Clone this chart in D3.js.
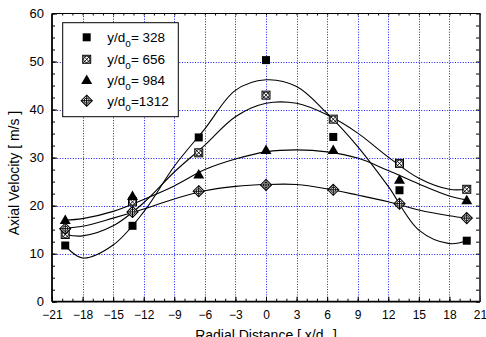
<!DOCTYPE html>
<html>
<head>
<meta charset="utf-8">
<script src="https://cdn.jsdelivr.net/npm/d3@7"></script>
<style>
  html, body { margin: 0; padding: 0; background: #fff; }
  svg { display: block; font-family: Arial, "Liberation Sans", sans-serif; }
</style>
</head>
<body>
<figure id="velocity-graph" style="margin:0"></figure>
<script>
// measured points (radial position, x/do)
const radialPos = [-19.7, -13.1, -6.6, 0, 6.6, 13.1, 19.7];
const vel328 = [11.7, 15.8, 34.2, 50.3, 34.3, 23.2, 12.7];
const vel656 = [14.0, 20.8, 31.0, 43.0, 38.0, 28.8, 23.4];
const vel984 = [17.0, 22.0, 26.5, 31.6, 31.6, 25.4, 21.1];
const vel1312 = [15.2, 18.7, 23.0, 24.3, 23.3, 20.4, 17.4];

// fitted curves
const fitPos = [-19.7, -18, -15, -12, -9, -6, -3, 0, 3, 6, 9, 12, 15, 18, 19.7];
const fit328 = [11.6, 9.1, 11.8, 18.7, 28.2, 36.0, 44.0, 46.2, 44.8, 39.2, 32.3, 24.0, 14.9, 12.1, 12.7];
const fit656 = [14.0, 13.7, 15.8, 20.6, 27.0, 32.6, 38.5, 41.3, 41.3, 38.9, 35.1, 30.1, 25.7, 23.4, 23.4];
const fit984 = [17.0, 17.3, 18.8, 21.3, 24.1, 27.5, 29.7, 31.2, 31.6, 31.2, 29.9, 27.3, 24.5, 22.0, 21.2];
const fit1312 = [15.3, 15.7, 17.4, 19.3, 21.4, 23.1, 24.0, 24.4, 24.4, 23.5, 22.2, 20.8, 19.1, 17.9, 17.4];

const seriesNames = ['328', '656', '984', '1312'];
const xTicks = [-21, -18, -15, -12, -9, -6, -3, 0, 3, 6, 9, 12, 15, 18, 21];
const yTicks = [0, 10, 20, 30, 40, 50, 60];

const W = 486, H = 337;
const plotLeft = 52, plotRight = 480, plotTop = 13.5, plotBottom = 301.7;

const svg = d3.select('figure#velocity-graph')
  .append('svg')
  .attr('width', W)
  .attr('height', H);

const x = d3.scaleLinear().domain([-21, 21]).range([plotLeft, plotRight]);
const y = d3.scaleLinear().domain([0, 60]).range([plotBottom, plotTop]);

// grid
svg.append('g')
  .selectAll('line')
  .data(xTicks.slice(1, -1))
  .enter()
  .append('line')
  .attr('x1', d => Math.round(x(d)) + 0.5).attr('x2', d => Math.round(x(d)) + 0.5)
  .attr('y1', plotTop).attr('y2', plotBottom)
  .attr('stroke', '#1a1aff')
  .attr('stroke-width', 1)
  .attr('stroke-dasharray', '1,1.6');

svg.append('g')
  .selectAll('line')
  .data(yTicks.slice(1, -1))
  .enter()
  .append('line')
  .attr('x1', plotLeft).attr('x2', plotRight)
  .attr('y1', d => Math.round(y(d)) + 0.5).attr('y2', d => Math.round(y(d)) + 0.5)
  .attr('stroke', '#1a1aff')
  .attr('stroke-width', 1)
  .attr('stroke-dasharray', '1,1.6');

// axes (ticks inward)
const xMinor = d3.range(-21, 22, 1);
const yMinor = d3.range(0, 60.1, 2.5);

svg.append('g')
  .attr('transform', 'translate(0,' + plotBottom + ')')
  .call(d3.axisBottom(x).tickValues(xMinor).tickSize(-3).tickFormat(''))
  .call(g => g.select('.domain').remove());
svg.append('g')
  .attr('transform', 'translate(0,' + plotBottom + ')')
  .call(d3.axisBottom(x).tickValues(xTicks).tickSize(-5).tickPadding(9).tickFormat(d3.format('d')))
  .call(g => g.select('.domain').remove())
  .selectAll('text')
  .attr('font-size', 12)
  .attr('fill', '#000')
  .attr('font-family', 'Arial, "Liberation Sans", sans-serif');

svg.append('g')
  .attr('transform', 'translate(0,' + plotTop + ')')
  .call(d3.axisTop(x).tickValues(xMinor).tickSize(-2).tickFormat(''))
  .call(g => g.select('.domain').remove());

svg.append('g')
  .attr('transform', 'translate(' + plotLeft + ',0)')
  .call(d3.axisLeft(y).tickValues(yMinor).tickSize(-3).tickFormat(''))
  .call(g => g.select('.domain').remove());
svg.append('g')
  .attr('transform', 'translate(' + plotLeft + ',0)')
  .call(d3.axisLeft(y).tickValues(yTicks).tickSize(-5).tickPadding(8))
  .call(g => g.select('.domain').remove())
  .selectAll('text')
  .attr('font-size', 13)
  .attr('fill', '#000')
  .attr('font-family', 'Arial, "Liberation Sans", sans-serif');

svg.append('g')
  .attr('transform', 'translate(' + plotRight + ',0)')
  .call(d3.axisRight(y).tickValues(yMinor).tickSize(-4).tickFormat(''))
  .call(g => g.select('.domain').remove());

// frame
svg.append('line').attr('x1', plotLeft).attr('x2', plotRight).attr('y1', plotTop).attr('y2', plotTop)
  .attr('stroke', '#000').attr('stroke-width', 1.2);
svg.append('line').attr('x1', plotLeft).attr('x2', plotRight).attr('y1', plotBottom).attr('y2', plotBottom)
  .attr('stroke', '#000').attr('stroke-width', 1.8);
svg.append('line').attr('x1', plotLeft).attr('x2', plotLeft).attr('y1', plotTop).attr('y2', plotBottom)
  .attr('stroke', '#000').attr('stroke-width', 1.8);
svg.append('line').attr('x1', plotRight).attr('x2', plotRight).attr('y1', plotTop).attr('y2', plotBottom)
  .attr('stroke', '#333').attr('stroke-width', 1.8);

// fitted lines
const fits = [fit328, fit656, fit984, fit1312];
const line = d3.line()
  .x(d => x(d[0]))
  .y(d => y(d[1]))
  .curve(d3.curveCatmullRom.alpha(0.5));

fits.forEach(f => {
  svg.append('path')
    .datum(fitPos.map((p, i) => [p, f[i]]))
    .attr('fill', 'none')
    .attr('stroke', '#000')
    .attr('stroke-width', 1.1)
    .attr('d', line);
});

// marker shapes
function squareMark(g) {
  g.append('rect').attr('x', -4).attr('y', -4).attr('width', 8).attr('height', 8).attr('fill', '#000');
}
function crossSquareMark(g) {
  g.append('rect').attr('x', -4).attr('y', -4).attr('width', 8).attr('height', 8)
    .attr('fill', '#fff').attr('stroke', '#000').attr('stroke-width', 1);
  g.append('circle').attr('r', 3.2).attr('fill', 'none').attr('stroke', '#000').attr('stroke-width', 0.9);
  g.append('path').attr('d', 'M-3.5,-3.5L3.5,3.5M-3.5,3.5L3.5,-3.5').attr('stroke', '#000').attr('stroke-width', 0.9);
}
function triangleMark(g) {
  g.append('path').attr('d', 'M0,-5.5L5.5,4L-5.5,4Z').attr('fill', '#000');
}
function crossDiamondMark(g) {
  g.append('path').attr('d', 'M0,-5.5L5.5,0L0,5.5L-5.5,0Z')
    .attr('fill', '#fff').attr('stroke', '#000').attr('stroke-width', 1.1);
  g.append('path').attr('d', 'M0,-5.5V5.5M-5.5,0H5.5').attr('stroke', '#000').attr('stroke-width', 1);
  g.append('circle').attr('r', 2.6).attr('fill', 'none').attr('stroke', '#000').attr('stroke-width', 0.9);
}
const markers = [squareMark, crossSquareMark, triangleMark, crossDiamondMark];
const values = [vel328, vel656, vel984, vel1312];

values.forEach((vals, s) => {
  svg.append('g')
    .selectAll('g')
    .data(radialPos.map((p, i) => [p, vals[i]]))
    .enter()
    .append('g')
    .attr('transform', d => 'translate(' + x(d[0]) + ',' + y(d[1]) + ')')
    .each(function () { markers[s](d3.select(this)); });
});

// legend
const legend = svg.append('g');
legend.append('rect')
  .attr('x', 62.7).attr('y', 22.7)
  .attr('width', 115.6).attr('height', 94)
  .attr('fill', '#fff')
  .attr('stroke', '#000')
  .attr('stroke-width', 1);

const rowY = [37.3, 59.3, 80, 100.7];
seriesNames.forEach((name, i) => {
  const g = legend.append('g').attr('transform', 'translate(86.7,' + rowY[i] + ')');
  markers[i](g);
  const t = legend.append('text')
    .attr('x', 107.3)
    .attr('y', rowY[i] + 5)
    .attr('font-size', 13.5)
    .attr('fill', '#000');
  t.append('tspan').text('y/d');
  t.append('tspan').attr('font-size', 10).attr('dy', 5).text('o');
  t.append('tspan').attr('dy', -5).text(name.length > 3 ? '=' + name : '= ' + name);
});

// axis titles
svg.append('text')
  .attr('x', (plotLeft + plotRight) / 2)
  .attr('y', 340)
  .attr('text-anchor', 'middle')
  .attr('font-size', 14)
  .attr('fill', '#000')
  .call(t => {
    t.append('tspan').text('Radial Distance [ x/d');
    t.append('tspan').attr('font-size', 10).attr('dy', 4).text('o');
    t.append('tspan').attr('dy', -4).text(' ]');
  });

svg.append('text')
  .attr('transform', 'translate(19,173) rotate(-90)')
  .attr('text-anchor', 'middle')
  .attr('font-size', 14)
  .attr('fill', '#000')
  .text('Axial Velocity [ m/s ]');
</script>
</body>
</html>
